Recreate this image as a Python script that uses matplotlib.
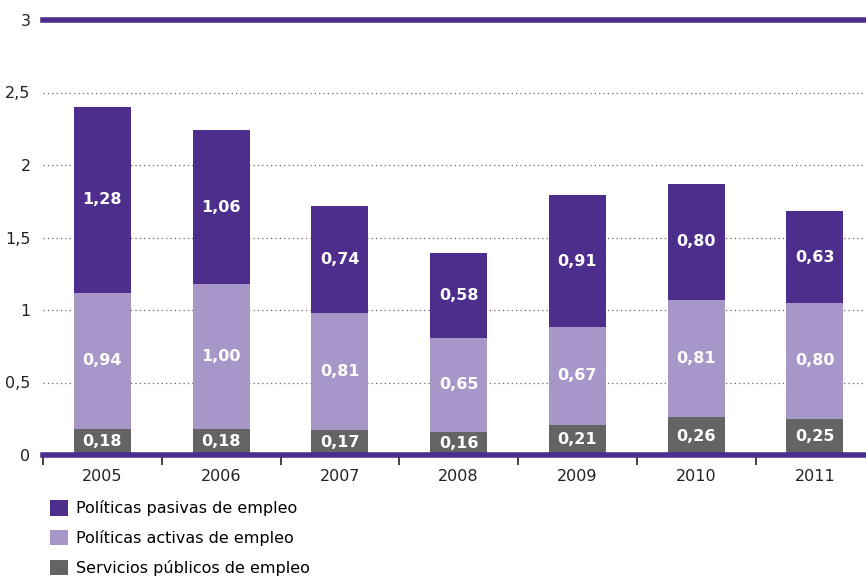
import numpy as np
import matplotlib.pyplot as plt

years = ['2005', '2006', '2007', '2008', '2009', '2010', '2011']
servicios = [0.18, 0.18, 0.17, 0.16, 0.21, 0.26, 0.25]
activas = [0.94, 1.00, 0.81, 0.65, 0.67, 0.81, 0.80]
pasivas = [1.28, 1.06, 0.74, 0.58, 0.91, 0.80, 0.63]

c_pas = '#4d2e8c'
c_act = '#a797c9'
c_ser = '#646464'


def fmt(v):
    return f'{v:.2f}'.replace('.', ',')


fig = plt.figure(figsize=(8.66, 5.76), dpi=100)
ax = fig.add_axes([43 / 866, 1 - 455 / 576, 1 - 43 / 866, 435 / 576])

x = np.arange(len(years))
w = 0.48
ser = np.array(servicios)
act = np.array(activas)
pas = np.array(pasivas)

b1 = ax.bar(x, ser, w, color=c_ser, zorder=3, label='Servicios públicos de empleo')
b2 = ax.bar(x, act, w, bottom=ser, color=c_act, zorder=3, label='Políticas activas de empleo')
b3 = ax.bar(x, pas, w, bottom=ser + act, color=c_pas, zorder=3, label='Políticas pasivas de empleo')

# value labels in the middle of each segment
for bars, vals, bottoms in ((b1, ser, 0 * ser), (b2, act, ser), (b3, pas, ser + act)):
    for xi, v, b in zip(x, vals, bottoms):
        ax.text(xi, b + v / 2, fmt(v), ha='center', va='center', color='white',
                fontsize=11.5, fontweight='bold', zorder=4)

ax.set_xlim(-0.5, 6.43)
ax.set_ylim(0, 3)
ax.set_yticks([0, 0.5, 1, 1.5, 2, 2.5, 3])
ax.set_yticklabels(['0', '0,5', '1', '1,5', '2', '2,5', '3'], fontsize=11.5, color='#222222')
ax.tick_params(axis='y', length=0, pad=9)

# grid and thick lines at 0 and 3
for yv in [0.5, 1, 1.5, 2, 2.5]:
    ax.axhline(yv, color='#666666', lw=0.9, ls=(0, (1, 2.5)), zorder=1)
ax.axhline(3, color=c_pas, lw=4, zorder=5, clip_on=False)
ax.axhline(0, color=c_pas, lw=4, zorder=5, clip_on=False)

for s in ax.spines.values():
    s.set_visible(False)

ax.set_xticks(x)
ax.set_xticklabels(years, fontsize=11.5, color='#222222')
ax.set_xticks(np.arange(-0.5, 6.5, 1), minor=True)
ax.tick_params(axis='x', which='major', length=0, pad=10)
ax.tick_params(axis='x', which='minor', length=7, width=1.2, color='#222222', direction='out')

handles = [b3, b2, b1]
fig.legend(handles=handles, labels=[h.get_label() for h in handles],
           loc='upper left', bbox_to_anchor=(44 / 866, 1 - 494 / 576),
           frameon=False, fontsize=11.5, handlelength=1.1, handleheight=1.1,
           labelspacing=0.85, handletextpad=0.5, borderaxespad=0)

fig.savefig('out.png', dpi=100)
plt.close(fig)
